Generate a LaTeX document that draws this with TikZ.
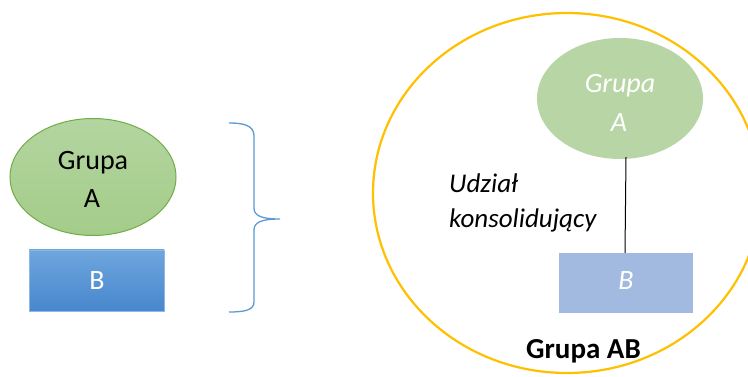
\documentclass[tikz,border=0pt]{standalone}
\usepackage{fontspec}
\setmainfont{Carlito}
\usetikzlibrary{shapes.geometric}
\definecolor{grA}{HTML}{B3D5A0}
\definecolor{grB}{HTML}{A4CC89}
\definecolor{grBorder}{HTML}{70AD47}
\definecolor{blA}{HTML}{6EA6DD}
\definecolor{blB}{HTML}{4887CD}
\definecolor{braceC}{HTML}{5B9BD5}
\definecolor{gold}{HTML}{FFC000}
\definecolor{grSoft}{HTML}{B8D6A5}
\definecolor{blSoft}{HTML}{A2B9E0}
\tikzset{
  bigtxt/.style={font=\fontsize{28}{38}\selectfont, align=center},
  grpA/.style={ellipse, draw=grBorder, line width=1pt, top color=grA, bottom color=grB, minimum width=166, minimum height=117, inner sep=0pt, bigtxt},
  boxB/.style={rectangle, top color=blA, bottom color=blB, draw=blA!80!white, line width=0.5pt, minimum width=135, minimum height=61, inner sep=0pt, bigtxt, text=white},
  grpA2/.style={ellipse, fill=grSoft, minimum width=166, minimum height=121, inner sep=0pt, bigtxt, text=white, font=\fontsize{28}{39}\selectfont\itshape},
  boxB2/.style={rectangle, fill=blSoft, minimum width=134, minimum height=60, inner sep=0pt, bigtxt, text=white, font=\fontsize{28}{38}\selectfont\itshape},
}
\begin{document}
\begin{tikzpicture}[x=1pt,y=-1pt]
\useasboundingbox (0,0) rectangle (748,377);
\fill[white] (0,0) rectangle (748,377);
% left group A
\node[grpA] (ga) at (93,177) {};
\node[bigtxt, anchor=base, inner sep=0pt] (gat1) at (93,170) {Grupa};
\node[bigtxt, anchor=base, inner sep=0pt] (gat2) at (92,208) {A};
\node[boxB] (gb) at (96.5,280.5) {};
\node[bigtxt, anchor=base, inner sep=0pt, text=white] (gbt) at (97,290) {B};
% brace
\draw[braceC, line width=1.3pt] (229,123) .. controls (245,123) and (254,126) .. (254,136)
  -- (254,208) .. controls (254,216) and (262,219) .. (280,219)
  .. controls (262,219) and (254,222) .. (254,230)
  -- (254,302) .. controls (254,310) and (245,312) .. (229,312);
% big circle
\draw[gold, line width=2.2pt] (567,193) ellipse [x radius=194, y radius=180];
% inner
\node[grpA2] (ga2) at (620,98.5) {};
\node[anchor=base, inner sep=0pt, text=white, font=\fontsize{28}{39}\selectfont\itshape] (ga2t1) at (620,93) {Grupa};
\node[anchor=base, inner sep=0pt, text=white, font=\fontsize{28}{39}\selectfont\itshape] (ga2t2) at (619,132) {A};
\node[boxB2] (gb2) at (626,283) {};
\node[anchor=base, inner sep=0pt, text=white, font=\fontsize{28}{39}\selectfont\itshape] (gb2t) at (626,290) {B};
\draw[black, line width=1pt] ([xshift=6pt,yshift=2pt]ga2.south) -- ([xshift=-1pt]gb2.north);
\node[anchor=base west, font=\fontsize{27}{35}\selectfont\itshape, inner sep=0pt] (ud) at (449,193) {Udział};
\node[anchor=base west, font=\fontsize{27}{35}\selectfont\itshape, inner sep=0pt] (ks) at (449,228) {konsolidujący};
\node[anchor=base, font=\fontsize{29}{30}\selectfont\bfseries, inner sep=0pt] (gab) at (583.5,358) {Grupa AB};
\end{tikzpicture}
\end{document}
